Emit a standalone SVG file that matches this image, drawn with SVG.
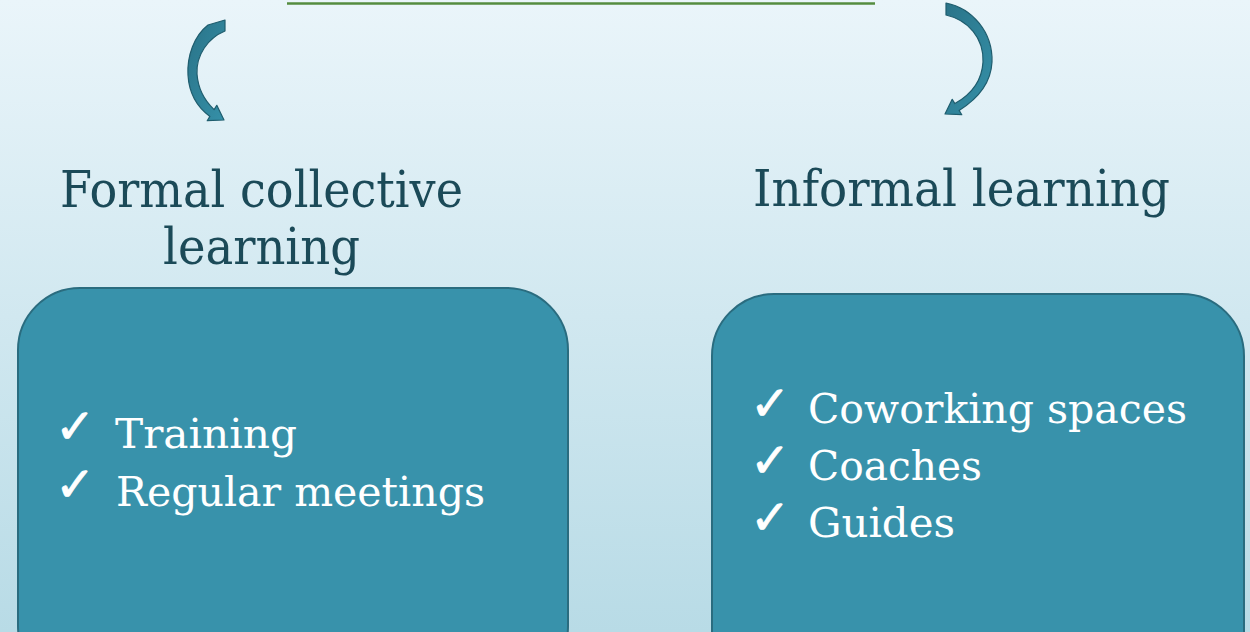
<svg xmlns="http://www.w3.org/2000/svg" width="1250" height="632" viewBox="0 0 1250 632">
  <defs>
    <linearGradient id="bg" x1="0" y1="0" x2="0" y2="1">
      <stop offset="0" stop-color="#eaf5fa"/>
      <stop offset="1" stop-color="#b8dbe6"/>
    </linearGradient>
    <linearGradient id="arrowFill" x1="0" y1="0" x2="1" y2="1">
      <stop offset="0" stop-color="#2a7388"/>
      <stop offset="1" stop-color="#3590a8"/>
    </linearGradient>
    <style>
      .heading { font-family: "DejaVu Serif", "Liberation Serif", serif; font-size: 50px; fill: #1b4a58; }
      .item { font-family: "DejaVu Serif", "Liberation Serif", serif; font-size: 41px; fill: #ffffff; }
      .check { font-family: "DejaVu Sans", sans-serif; font-size: 48px; fill: #ffffff; stroke: #ffffff; stroke-width: 0.8; }
      .box { fill: #3892ab; stroke: #2a6c7f; stroke-width: 2; }
      .arrow { fill: url(#arrowFill); stroke: #1f5d6e; stroke-width: 1.2; stroke-linejoin: round; }
    </style>
  </defs>

  <rect x="0" y="0" width="1250" height="632" fill="url(#bg)"/>

  <g id="title-underline">
    <line x1="287" y1="3.5" x2="875" y2="3.5" stroke="#548c3f" stroke-width="2.5"/>
  </g>

  <g id="connectors">
    <path class="arrow" d="M 208,25 L 225,20 L 225,31 C 208,38 196,55 197,74 C 198,88 204,100 214.1,109.6 L 216.8,105.3 L 224,120 L 207.2,120.7 L 209.9,116.4 C 197,107 189,93 188,75 C 187,56 194,36 208,25 Z"/>
    <path class="arrow" d="M 946,3 C 972,8 993,32 992,62 C 991,82 979,98 959.1,110.4 L 961.8,114.7 L 945,114 L 952.2,99.3 L 954.9,103.6 C 972,94 982,80 983,62 C 984,38 968,20 946,15 Z"/>
  </g>

  <g id="node-formal">
    <text class="heading" x="60" y="207" textLength="403" lengthAdjust="spacingAndGlyphs">Formal collective</text>
    <text class="heading" x="163" y="264" textLength="197" lengthAdjust="spacingAndGlyphs">learning</text>
    <rect class="box" x="18" y="288" width="550" height="400" rx="62" ry="62"/>
    <text class="check" x="55" y="443">✓</text>
    <text class="item" x="115" y="448" textLength="182" lengthAdjust="spacingAndGlyphs">Training</text>
    <text class="check" x="55" y="501">✓</text>
    <text class="item" x="116" y="506" textLength="369" lengthAdjust="spacingAndGlyphs">Regular meetings</text>
  </g>

  <g id="node-informal">
    <text class="heading" x="753" y="206" textLength="417" lengthAdjust="spacingAndGlyphs">Informal learning</text>
    <rect class="box" x="712" y="294" width="532" height="400" rx="62" ry="62"/>
    <text class="check" x="750" y="420">✓</text>
    <text class="item" x="808" y="423" textLength="379" lengthAdjust="spacingAndGlyphs">Coworking spaces</text>
    <text class="check" x="750" y="477">✓</text>
    <text class="item" x="808" y="480" textLength="174" lengthAdjust="spacingAndGlyphs">Coaches</text>
    <text class="check" x="750" y="534">✓</text>
    <text class="item" x="808" y="537" textLength="147" lengthAdjust="spacingAndGlyphs">Guides</text>
  </g>
</svg>
